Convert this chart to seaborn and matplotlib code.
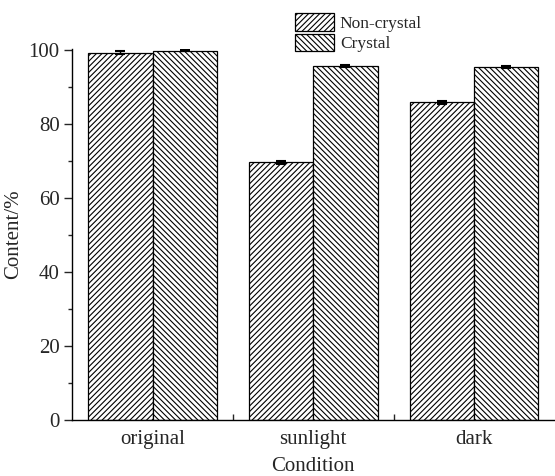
import matplotlib
matplotlib.use("Agg")
import matplotlib.pyplot as plt
from matplotlib.patches import Patch
from matplotlib.ticker import MultipleLocator, FixedLocator
import seaborn as sns
import pandas as pd

conditions = ["original", "sunlight", "dark"]
series = ["Non-crystal", "Crystal"]
non_crystal = [99.3, 69.7, 85.9]
crystal = [99.9, 95.7, 95.5]
non_crystal_err = [0.4, 0.4, 0.5]
crystal_err = [0.2, 0.2, 0.2]
hatches = ["//////", "\\\\\\\\\\\\"]

df = pd.DataFrame({
    "Condition": conditions * 2,
    "Group": [series[0]] * 3 + [series[1]] * 3,
    "Content": non_crystal + crystal,
})

sns.set_style("ticks")
plt.rcParams["font.family"] = ["Liberation Serif", "DejaVu Serif"]
plt.rcParams["hatch.linewidth"] = 0.8
plt.rcParams["hatch.color"] = "black"

fig = plt.figure(figsize=(5.55, 4.76), dpi=100)
ax = fig.add_axes([0.13, 0.1176, 0.869, 0.779])

sns.barplot(data=df, x="Condition", y="Content", hue="Group",
            order=conditions, hue_order=series, errorbar=None,
            width=0.8, legend=False, ax=ax)

errs = [non_crystal_err, crystal_err]
vals = [non_crystal, crystal]
for cont, h, v, e in zip(ax.containers, hatches, vals, errs):
    xs = []
    for bar in cont:
        bar.set_facecolor("white")
        bar.set_edgecolor("black")
        bar.set_linewidth(0.9)
        bar.set_hatch(h)
        xs.append(bar.get_x() + bar.get_width() / 2)
    ax.errorbar(xs, v, yerr=e, fmt="none", ecolor="black",
                elinewidth=1.0, capsize=3.5, capthick=1.5)

ax.set_ylim(0, 100.3)
ax.set_xlim(-0.5, 2.5)
ax.yaxis.set_major_locator(MultipleLocator(20))
ax.yaxis.set_minor_locator(MultipleLocator(10))
ax.xaxis.set_minor_locator(FixedLocator([0.5, 1.5]))
ax.tick_params(axis="y", which="major", direction="out", length=6,
               width=1, labelsize=15, pad=3)
ax.tick_params(axis="y", which="minor", direction="out", length=3, width=1)
ax.tick_params(axis="x", which="both", direction="in", length=4, width=1,
               labelsize=15, pad=7)
for side in ("top", "right"):
    ax.spines[side].set_visible(False)
for side in ("left", "bottom"):
    ax.spines[side].set_linewidth(1.0)
    ax.spines[side].set_color("black")

ax.set_xlabel("Condition", fontsize=15, labelpad=6)
ax.set_ylabel("Content/%", fontsize=15, labelpad=4)

handles = [Patch(facecolor="white", edgecolor="black", hatch=h, linewidth=0.9)
           for h in hatches]
fig.legend(handles, series, loc="upper left", bbox_to_anchor=(0.531, 0.972),
           frameon=False, fontsize=12.5, handlelength=2.25, handleheight=1.15,
           labelspacing=0.12, handletextpad=0.35, borderpad=0, borderaxespad=0)

fig.savefig("out.png", dpi=100)
